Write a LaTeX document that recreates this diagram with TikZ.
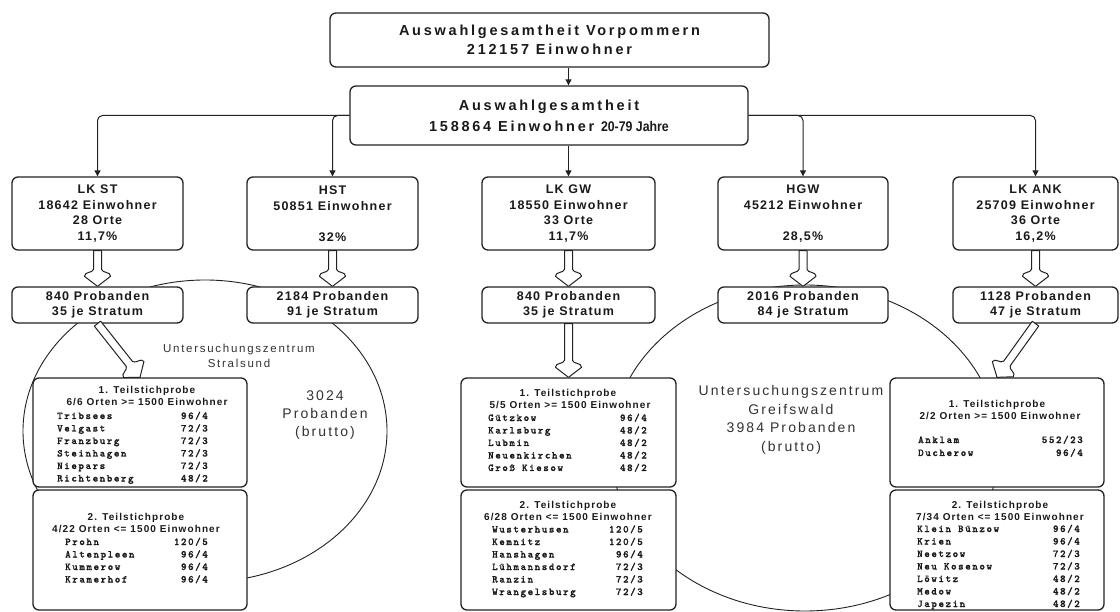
\documentclass[tikz,border=0pt]{standalone}
\usepackage{fontspec}
\usepackage{graphicx}
\setmainfont{Liberation Sans}
\usetikzlibrary{arrows.meta,calc}
\newfontfamily\fTop{Liberation Sans}[LetterSpace=19]
\newfontfamily\fBox{Liberation Sans}[LetterSpace=10]
\newfontfamily\fHead{Liberation Sans}[LetterSpace=11]
\newfontfamily\fCen{Liberation Sans}[LetterSpace=15]
\newfontfamily\fMono{lmmonolt10-bold.otf}[LetterSpace=15,FakeBold=1.2]
\definecolor{lc}{HTML}{222222}
\definecolor{tc}{HTML}{1A1A1A}
\definecolor{cc}{HTML}{333333}
\newcommand\harrow[2]{%
 \path[draw=lc, line width=1pt, fill=white, line join=round]
  let \p1=($(#2)-(#1)$), \n1={atan2(\y1,\x1)}, \n2={veclen(\x1,\y1)-17},
      \n3={veclen(\x1,\y1)-13}, \n4={veclen(\x1,\y1)-15}, \n5={veclen(\x1,\y1)-10} in
  ($(#1)+(\n1+90:4pt)$) -- ($(#1)+(\n1:\n2)+(\n1+90:4pt)$)
  .. controls ($(#1)+(\n1:\n3)+(\n1+90:5pt)$) and ($(#1)+(\n1:\n4)+(\n1+90:13pt)$) .. ($(#1)+(\n1:\n5)+(\n1+90:13pt)$)
  -- (#2)
  -- ($(#1)+(\n1:\n5)+(\n1-90:13pt)$)
  .. controls ($(#1)+(\n1:\n4)+(\n1-90:13pt)$) and ($(#1)+(\n1:\n3)+(\n1-90:5pt)$) .. ($(#1)+(\n1:\n2)+(\n1-90:4pt)$)
  -- ($(#1)+(\n1-90:4pt)$) -- cycle;}
\newcommand\pl[6]{\node[mn,anchor=west] (#1a) at (#2,#4) {#5};\node[mn,anchor=east] (#1b) at (#3,#4) {#6};}
\begin{document}
\begin{tikzpicture}[x=1pt,y=-1pt,
  bx/.style={draw=lc, line width=1.3pt, rounded corners=6pt, fill=white, inner sep=0pt, align=center, text=tc},
  lvl/.style={bx, minimum width=171pt, minimum height=73pt, font=\fBox\bfseries\fontsize{12.5}{15.5}\selectfont},
  prb/.style={bx, minimum width=171pt, minimum height=36pt, font=\fBox\bfseries\fontsize{12.5}{15.5}\selectfont},
  teil/.style={bx, minimum width=214pt},
  conn/.style={draw=lc, line width=1pt, -{Triangle[length=6pt,width=6pt]}},
  ell/.style={draw=lc, line width=0.9pt},
  hd/.style={inner sep=0pt, text height=7pt, text depth=0pt, text=tc, font=\fHead\bfseries\fontsize{10}{12}\selectfont},
  mn/.style={inner sep=0pt, text height=6pt, text depth=0pt, text=tc, font=\fMono\fontsize{10.5}{12}\selectfont},
  cen/.style={inner sep=0pt, align=center, text=cc}]
\fill[white] (0,0) rectangle (1120,612);
\useasboundingbox (0,0) rectangle (1120,612);
% background ellipses
\draw[ell] (205,431) ellipse [x radius=182pt, y radius=151pt];
\draw[ell] (805,448) ellipse [x radius=194pt, y radius=163pt];
% top boxes
\node[bx, minimum width=439pt, minimum height=54pt, font=\fTop\bfseries\fontsize{14.5}{19}\selectfont] (top) at (549.5,40) {Auswahlgesamtheit Vorpommern\\212157 Einwohner};
\node[bx, minimum width=398pt, minimum height=59pt, font=\fTop\bfseries\fontsize{14.5}{21}\selectfont] (sec) at (549,115.5) {Auswahlgesamtheit\\158864 Einwohner {\normalfont\bfseries\fontsize{14}{14}\selectfont\scalebox{0.88}[1]{20-79 Jahre}}};
% level 3
\node[lvl] (lkst) at (97.5,213.5) {LK ST\\18642 Einwohner\\28 Orte\\11,7\%};
\node[lvl] (hst) at (332.5,213.5) {HST\\50851 Einwohner\\~\\32\%};
\node[lvl, minimum width=173pt] (gw) at (568.5,213.5) {LK GW\\18550 Einwohner\\33 Orte\\11,7\%};
\node[lvl, minimum width=170pt] (hgw) at (803,213.5) {HGW\\45212 Einwohner\\~\\28,5\%};
\node[lvl, minimum width=165pt] (ank) at (1035.5,213.5) {LK ANK\\25709 Einwohner\\36 Orte\\16,2\%};
% probanden
\node[prb] (lkstp) at (97.5,305) {840 Probanden\\35 je Stratum};
\node[prb] (hstp) at (332.5,305) {2184 Probanden\\91 je Stratum};
\node[prb, minimum width=173pt] (gwp) at (568.5,305) {840 Probanden\\35 je Stratum};
\node[prb, minimum width=170pt] (hgwp) at (803,305) {2016 Probanden\\84 je Stratum};
\node[prb, minimum width=165pt] (ankp) at (1035.5,305) {1128 Probanden\\47 je Stratum};
% connectors
\draw[conn] (top.south -| gw.north) -- (sec.north -| gw.north);
\draw[conn] (sec.south -| gw.north) -- (gw.north);
\draw[conn, rounded corners=5pt] (sec.west) -| (lkst.north);
\draw[conn, rounded corners=5pt] (sec.west) -| (hst.north);
\draw[conn, rounded corners=5pt] (sec.east) -| (hgw.north);
\draw[conn, rounded corners=5pt] (sec.east) -| (ank.north);
% hollow arrows
\harrow{lkst.south}{lkstp.north}
\harrow{hst.south}{hstp.north}
\harrow{gw.south}{gwp.north}
\harrow{hgw.south}{hgwp.north}
\harrow{ank.south}{ankp.north}
% Teil boxes
\node[teil, minimum height=109pt] (st1) at (140,432.5) {};
\node[teil, minimum height=120pt] (st2) at (140,550) {};
\node[teil, minimum width=215pt, minimum height=109pt] (gw1) at (568.5,432.5) {};
\node[teil, minimum width=215pt, minimum height=120pt] (gw2) at (568.5,550) {};
\node[teil, minimum height=109pt] (an1) at (997,432.5) {};
\node[teil, minimum height=120pt] (an2) at (997,550) {};
\harrow{lkstp.south}{st1.north}
\harrow{gwp.south}{gw1.north}
\harrow{ankp.south}{an1.north}
% centre labels
\node[cen, font=\fCen\fontsize{11.5}{15}\selectfont] (stz) at (239,355.5) {Untersuchungszentrum\\Stralsund};
\node[cen, font=\fCen\fontsize{14}{18}\selectfont] (stn) at (325,415) {3024\\Probanden\\(brutto)};
\node[cen, font=\fCen\fontsize{14}{18.7}\selectfont] (gwz) at (791,420) {Untersuchungszentrum\\Greifswald\\3984 Probanden\\(brutto)};
% LK ST Teil 1
\node[hd] (st1h) at (147,390) {1. Teilstichprobe};
\node[hd] (st1s) at (147,402) {6/6 Orten >= 1500 Einwohner};
\pl{sa1}{57}{208}{416}{Tribsees}{96/4}
\pl{sa2}{57}{208}{428.5}{Velgast}{72/3}
\pl{sa3}{57}{208}{441}{Franzburg}{72/3}
\pl{sa4}{57}{208}{453.5}{Steinhagen}{72/3}
\pl{sa5}{57}{208}{466}{Niepars}{72/3}
\pl{sa6}{57}{208}{478.5}{Richtenberg}{48/2}
% LK ST Teil 2
\node[hd] (st2h) at (136,517) {2. Teilstichprobe};
\node[hd] (st2s) at (136,529) {4/22 Orten <= 1500 Einwohner};
\pl{sb1}{65}{208}{542}{Prohn}{120/5}
\pl{sb2}{65}{208}{554.5}{Altenpleen}{96/4}
\pl{sb3}{65}{208}{567}{Kummerow}{96/4}
\pl{sb4}{65}{208}{579.5}{Kramerhof}{96/4}
% GW Teil 1
\node[hd] (gw1h) at (568,393) {1. Teilstichprobe};
\node[hd] (gw1s) at (570,405) {5/5 Orten >= 1500 Einwohner};
\pl{ga1}{488}{647}{418}{Gützkow}{96/4}
\pl{ga2}{488}{647}{430.5}{Karlsburg}{48/2}
\pl{ga3}{488}{647}{443}{Lubmin}{48/2}
\pl{ga4}{488}{647}{455.5}{Neuenkirchen}{48/2}
\pl{ga5}{488}{647}{468}{Groß Kiesow}{48/2}
% GW Teil 2
\node[hd] (gw2h) at (568,505) {2. Teilstichprobe};
\node[hd] (gw2s) at (568,517) {6/28 Orten <= 1500 Einwohner};
\pl{gb1}{492}{643}{529.5}{Wusterhusen}{120/5}
\pl{gb2}{492}{643}{542}{Kemnitz}{120/5}
\pl{gb3}{492}{643}{554.5}{Hanshagen}{96/4}
\pl{gb4}{492}{643}{567}{Lühmannsdorf}{72/3}
\pl{gb5}{492}{643}{579.5}{Ranzin}{72/3}
\pl{gb6}{492}{643}{592}{Wrangelsburg}{72/3}
% ANK Teil 1
\node[hd] (an1h) at (997,404) {1. Teilstichprobe};
\node[hd] (an1s) at (1000,416) {2/2 Orten >= 1500 Einwohner};
\pl{aa1}{918}{1083}{440}{Anklam}{552/23}
\pl{aa2}{918}{1083}{453}{Ducherow}{96/4}
% ANK Teil 2
\node[hd] (an2h) at (1000,505) {2. Teilstichprobe};
\node[hd] (an2s) at (1000,517) {7/34 Orten <= 1500 Einwohner};
\pl{ab1}{917}{1080}{529}{Klein Bünzow}{96/4}
\pl{ab2}{917}{1080}{541.5}{Krien}{96/4}
\pl{ab3}{917}{1080}{554}{Neetzow}{72/3}
\pl{ab4}{917}{1080}{566.5}{Neu Kosenow}{72/3}
\pl{ab5}{917}{1080}{579}{Löwitz}{48/2}
\pl{ab6}{917}{1080}{591.5}{Medow}{48/2}
\pl{ab7}{917}{1080}{604}{Japezin}{48/2}
\end{tikzpicture}
\end{document}
